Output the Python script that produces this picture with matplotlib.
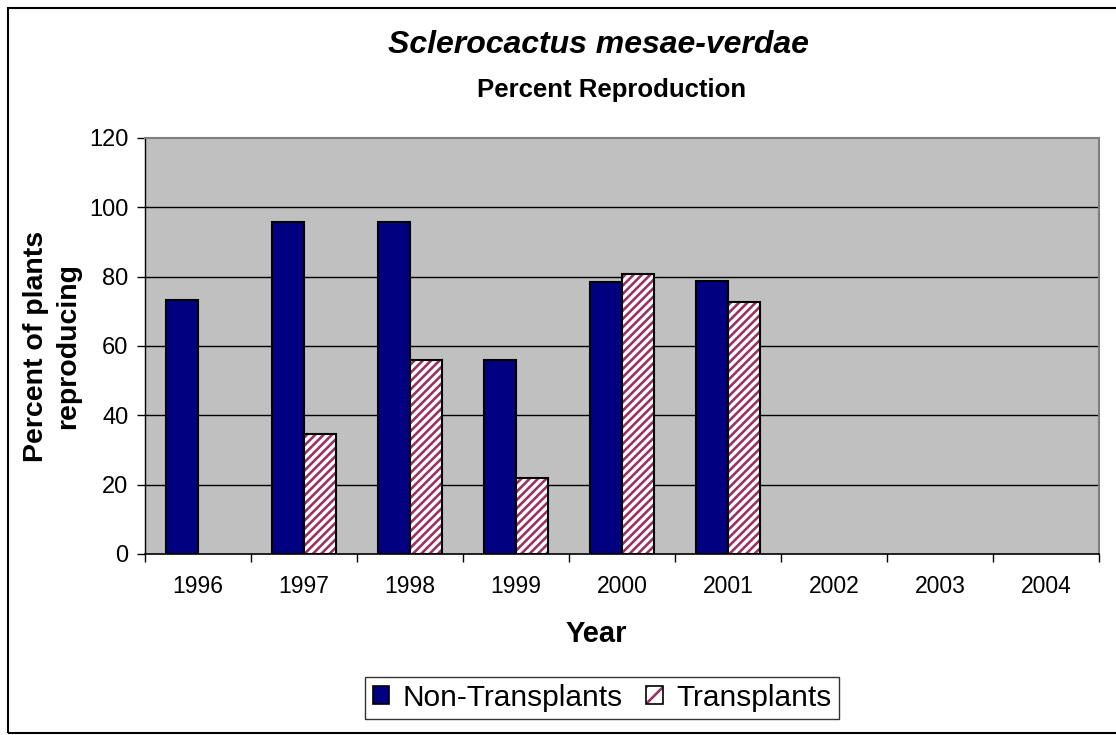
import numpy as np
import matplotlib
matplotlib.use("Agg")
import matplotlib.pyplot as plt
from matplotlib.patches import Patch, Rectangle
from matplotlib.legend_handler import HandlerBase

years = ['1996', '1997', '1998', '1999', '2000', '2001', '2002', '2003', '2004']
non_transplants = [73.2, 95.7, 95.7, 56.0, 78.4, 78.8, np.nan, np.nan, np.nan]
transplants = [np.nan, 34.6, 56.0, 21.8, 80.8, 72.6, np.nan, np.nan, np.nan]
y_ticks = [0, 20, 40, 60, 80, 100, 120]

plt.rcParams['font.family'] = ['Liberation Sans', 'DejaVu Sans']
plt.rcParams['hatch.linewidth'] = 1.9

W, H = 1116, 735
fig = plt.figure(figsize=(W / 100, H / 100), dpi=100)
ax = fig.add_axes([145 / W, 1 - 554 / H, (1099 - 145) / W, (554 - 138) / H])

NAVY = '#000080'
MAROON = '#993366'
x = np.arange(len(years))
bw = 0.3

ax.bar(x - bw / 2, non_transplants, bw, color=NAVY, edgecolor='black', linewidth=1.5, zorder=3)
ax.bar(x + bw / 2, transplants, bw, color='white', edgecolor=MAROON, linewidth=0, hatch='////', zorder=3)
ax.bar(x + bw / 2, transplants, bw, facecolor='none', edgecolor='black', linewidth=1.5, zorder=4)

ax.set_facecolor('#C0C0C0')
ax.set_xlim(-0.5, len(years) - 0.5)
ax.set_ylim(0, 120)
ax.set_yticks(y_ticks)
ax.set_yticklabels([str(v) for v in y_ticks], fontsize=17)
ax.set_xticks(x)
ax.set_xticklabels(years, fontsize=16.5)
ax.set_xticks(np.arange(-0.5, len(years), 1.0), minor=True)
ax.tick_params(axis='x', which='major', length=0, pad=15)
ax.tick_params(axis='x', which='minor', length=6, width=1, color='black')
ax.tick_params(axis='y', length=6, width=1, pad=6)
for v in y_ticks[1:-1]:
    ax.axhline(v, color='black', linewidth=1, zorder=1)

for s in ['top', 'right']:
    ax.spines[s].set_color('#808080')
    ax.spines[s].set_linewidth(1.5)
ax.spines['left'].set_color('black')
ax.spines['left'].set_linewidth(1)
ax.spines['bottom'].set_color('black')
ax.spines['bottom'].set_linewidth(1.2)

fig.text(598 / W, 1 - 45 / H, 'Sclerocactus mesae-verdae', ha='center', va='center',
         fontsize=23, fontweight='bold', fontstyle='italic')
fig.text(612 / W, 1 - 90 / H, 'Percent Reproduction', ha='center', va='center',
         fontsize=18.5, fontweight='bold')
fig.text(52 / W, 1 - 346 / H, 'Percent of plants\nreproducing', ha='center', va='center',
         rotation=90, fontsize=20.5, fontweight='bold', linespacing=1.3)
fig.text(596 / W, 1 - 634 / H, 'Year', ha='center', va='center',
         fontsize=21, fontweight='bold')


class HatchHandler(HandlerBase):
    def create_artists(self, legend, orig_handle, xdescent, ydescent,
                       width, height, fontsize, trans):
        r1 = Rectangle((-xdescent, -ydescent), width, height, facecolor='white',
                       edgecolor=MAROON, linewidth=0, hatch='//', transform=trans)
        r2 = Rectangle((-xdescent, -ydescent), width, height, facecolor='none',
                       edgecolor='black', linewidth=1.2, transform=trans)
        return [r1, r2]


h1 = Patch(facecolor=NAVY, edgecolor='black', linewidth=1.2)
h2 = Patch(facecolor='white', edgecolor='black')
leg = fig.legend([h1, h2], ['Non-Transplants', 'Transplants'],
                 handler_map={h2: HatchHandler()},
                 loc='center', bbox_to_anchor=(602 / W, 1 - 698 / H), ncol=2,
                 fontsize=21.5, frameon=True, fancybox=False, edgecolor='black',
                 handlelength=0.55, handleheight=0.55, handletextpad=0.45,
                 columnspacing=0.8, borderpad=0.25, borderaxespad=0)
leg.get_frame().set_linewidth(1)

fig.patches.append(Rectangle((8 / W, 2 / H), 1.05, (H - 10) / H,
                             transform=fig.transFigure, fill=False,
                             edgecolor='black', linewidth=1.5))

fig.savefig('out.png', dpi=100, facecolor='white')
